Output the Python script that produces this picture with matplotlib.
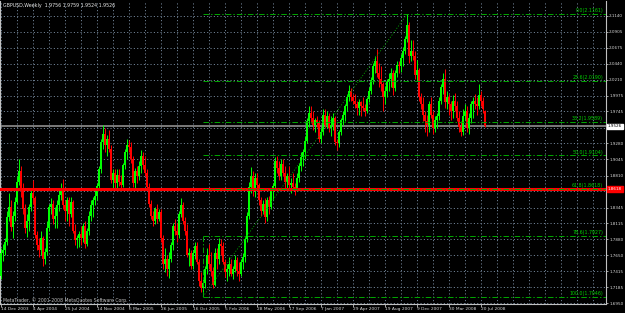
import matplotlib.pyplot as plt
import numpy as np

plt.rcParams["lines.scale_dashes"] = False
plt.rcParams["font.family"] = ["DejaVu Sans"]

title_text = "GBPUSD,Weekly  1.9756 1.9759 1.9524 1.9526"
copyright_text = "MetaTrader, \u00a9 2001-2008 MetaQuotes Software Corp."

# weekly bars, first bar = week of 14 Dec 2003
opens = [
    1.735, 1.768, 1.773, 1.785, 1.820, 1.835, 1.806, 1.822, 1.843, 1.872,
    1.888, 1.862, 1.832, 1.805, 1.815, 1.836, 1.855, 1.848, 1.795, 1.780,
    1.772, 1.790, 1.760, 1.770, 1.805, 1.835, 1.840, 1.818, 1.822, 1.838,
    1.853, 1.862, 1.838, 1.830, 1.845, 1.825, 1.842, 1.800, 1.787, 1.790,
    1.796, 1.790, 1.808, 1.782, 1.800, 1.822, 1.838, 1.845, 1.852, 1.866,
    1.890, 1.930, 1.942, 1.925, 1.935, 1.920, 1.875, 1.885, 1.870, 1.882,
    1.872, 1.868, 1.896, 1.915, 1.925, 1.922, 1.905, 1.870, 1.888, 1.880,
    1.895, 1.910, 1.896, 1.885, 1.865, 1.840, 1.822, 1.815, 1.832, 1.818,
    1.828, 1.790, 1.752, 1.760, 1.745, 1.760, 1.780, 1.808, 1.800, 1.795,
    1.825, 1.838, 1.815, 1.800, 1.765, 1.768, 1.750, 1.768, 1.778, 1.755,
    1.728, 1.718, 1.725, 1.745, 1.765, 1.752, 1.742, 1.722, 1.768, 1.760,
    1.782, 1.778, 1.755, 1.740, 1.745, 1.752, 1.738, 1.745, 1.758, 1.742,
    1.738, 1.755, 1.762, 1.788, 1.822, 1.865, 1.880, 1.858, 1.878, 1.868,
    1.845, 1.830, 1.840, 1.820, 1.845, 1.835, 1.858, 1.866, 1.902, 1.892,
    1.880, 1.898, 1.885, 1.872, 1.880, 1.868, 1.870, 1.865, 1.862, 1.878,
    1.895, 1.908, 1.915, 1.932, 1.960, 1.972, 1.965, 1.955, 1.962, 1.958,
    1.935, 1.945, 1.970, 1.955, 1.968, 1.950, 1.955, 1.965, 1.930, 1.928,
    1.945, 1.962, 1.970, 1.982, 1.995, 2.005, 1.996, 1.990, 1.985, 1.980,
    1.988, 1.982, 1.980, 1.975, 1.992, 2.005, 2.020, 2.040, 2.048, 2.030,
    2.022, 2.015, 1.995, 2.005, 2.018, 2.022, 2.030, 2.008, 2.030, 2.042,
    2.040, 2.052, 2.062, 2.080, 2.100, 2.055, 2.062, 2.055, 2.028, 2.035,
    1.995, 1.985, 1.970, 1.960, 1.955, 1.985, 1.970, 1.950, 1.962, 1.968,
    1.990, 2.010, 2.022, 1.988, 1.995, 1.985, 1.975, 1.990, 1.982, 1.965,
    1.952, 1.945, 1.968, 1.975, 1.950, 1.965, 1.985, 1.990, 1.985, 1.982,
    1.998, 1.990, 1.9756,
]
highs = [
    1.775, 1.781, 1.790, 1.829, 1.855, 1.845, 1.830, 1.850, 1.880, 1.905,
    1.895, 1.870, 1.840, 1.825, 1.840, 1.860, 1.875, 1.852, 1.800, 1.790,
    1.800, 1.793, 1.775, 1.815, 1.840, 1.848, 1.845, 1.835, 1.845, 1.860,
    1.870, 1.876, 1.845, 1.850, 1.850, 1.850, 1.845, 1.810, 1.795, 1.800,
    1.808, 1.812, 1.815, 1.805, 1.830, 1.845, 1.850, 1.860, 1.870, 1.895,
    1.935, 1.955, 1.950, 1.940, 1.948, 1.925, 1.890, 1.890, 1.890, 1.890,
    1.882, 1.900, 1.920, 1.935, 1.933, 1.930, 1.910, 1.892, 1.895, 1.902,
    1.918, 1.915, 1.910, 1.890, 1.870, 1.845, 1.830, 1.835, 1.840, 1.832,
    1.832, 1.795, 1.775, 1.765, 1.770, 1.785, 1.812, 1.818, 1.812, 1.830,
    1.848, 1.842, 1.820, 1.810, 1.775, 1.772, 1.772, 1.785, 1.785, 1.760,
    1.740, 1.730, 1.750, 1.775, 1.782, 1.770, 1.748, 1.775, 1.775, 1.790,
    1.788, 1.785, 1.760, 1.752, 1.762, 1.760, 1.750, 1.765, 1.762, 1.755,
    1.760, 1.768, 1.792, 1.828, 1.872, 1.893, 1.888, 1.885, 1.885, 1.870,
    1.850, 1.845, 1.848, 1.850, 1.852, 1.862, 1.870, 1.908, 1.910, 1.902,
    1.905, 1.905, 1.895, 1.885, 1.895, 1.878, 1.885, 1.870, 1.885, 1.900,
    1.915, 1.920, 1.938, 1.965, 1.983, 1.982, 1.975, 1.965, 1.968, 1.962,
    1.950, 1.978, 1.978, 1.975, 1.972, 1.968, 1.972, 1.968, 1.935, 1.948,
    1.965, 1.975, 1.985, 2.000, 2.013, 2.008, 2.000, 2.000, 1.990, 1.992,
    1.990, 1.995, 1.985, 1.995, 2.010, 2.025, 2.045, 2.055, 2.066, 2.045,
    2.040, 2.018, 2.012, 2.022, 2.030, 2.038, 2.035, 2.035, 2.048, 2.048,
    2.058, 2.068, 2.085, 2.116, 2.105, 2.078, 2.078, 2.062, 2.050, 2.038,
    2.002, 1.995, 1.975, 1.970, 1.990, 1.995, 1.975, 1.968, 1.972, 1.995,
    2.015, 2.030, 2.037, 2.005, 2.000, 1.990, 1.998, 2.002, 1.990, 1.975,
    1.960, 1.978, 1.985, 1.982, 1.972, 1.990, 1.995, 2.000, 1.995, 2.015,
    2.005, 1.995, 1.9759,
]
lows = [
    1.731, 1.756, 1.765, 1.780, 1.815, 1.800, 1.790, 1.815, 1.840, 1.868,
    1.850, 1.825, 1.798, 1.792, 1.800, 1.830, 1.840, 1.790, 1.772, 1.762,
    1.765, 1.750, 1.752, 1.765, 1.800, 1.825, 1.810, 1.805, 1.805, 1.830,
    1.845, 1.832, 1.815, 1.815, 1.808, 1.820, 1.798, 1.780, 1.775, 1.777,
    1.780, 1.785, 1.775, 1.778, 1.795, 1.815, 1.820, 1.838, 1.845, 1.860,
    1.885, 1.920, 1.915, 1.910, 1.915, 1.870, 1.862, 1.860, 1.862, 1.866,
    1.860, 1.865, 1.890, 1.905, 1.915, 1.900, 1.865, 1.862, 1.870, 1.875,
    1.885, 1.890, 1.880, 1.860, 1.835, 1.818, 1.808, 1.810, 1.812, 1.815,
    1.785, 1.745, 1.740, 1.735, 1.732, 1.755, 1.772, 1.795, 1.785, 1.790,
    1.820, 1.810, 1.795, 1.762, 1.750, 1.745, 1.745, 1.760, 1.752, 1.720,
    1.712, 1.705, 1.718, 1.738, 1.745, 1.735, 1.718, 1.720, 1.745, 1.752,
    1.765, 1.752, 1.733, 1.728, 1.735, 1.735, 1.730, 1.740, 1.735, 1.728,
    1.735, 1.745, 1.755, 1.785, 1.818, 1.855, 1.852, 1.850, 1.860, 1.838,
    1.822, 1.825, 1.812, 1.815, 1.825, 1.832, 1.845, 1.862, 1.885, 1.875,
    1.875, 1.880, 1.862, 1.860, 1.862, 1.855, 1.860, 1.853, 1.858, 1.872,
    1.888, 1.895, 1.905, 1.928, 1.952, 1.958, 1.948, 1.945, 1.952, 1.930,
    1.928, 1.940, 1.950, 1.950, 1.945, 1.938, 1.948, 1.925, 1.918, 1.922,
    1.940, 1.955, 1.960, 1.975, 1.990, 1.990, 1.985, 1.980, 1.970, 1.970,
    1.968, 1.975, 1.968, 1.972, 1.988, 2.000, 2.015, 2.030, 2.025, 2.010,
    2.005, 1.975, 1.985, 1.995, 2.005, 2.010, 1.998, 2.005, 2.025, 2.030,
    2.032, 2.040, 2.058, 2.075, 2.045, 2.048, 2.050, 2.022, 2.020, 1.990,
    1.978, 1.960, 1.945, 1.938, 1.945, 1.965, 1.942, 1.945, 1.950, 1.962,
    1.985, 2.000, 1.980, 1.978, 1.970, 1.962, 1.965, 1.975, 1.960, 1.945,
    1.938, 1.940, 1.962, 1.945, 1.942, 1.958, 1.965, 1.978, 1.970, 1.978,
    1.982, 1.972, 1.9524,
]
closes = [
    1.768, 1.773, 1.785, 1.820, 1.835, 1.806, 1.822, 1.843, 1.872, 1.888,
    1.862, 1.832, 1.805, 1.815, 1.836, 1.855, 1.848, 1.795, 1.780, 1.772,
    1.790, 1.760, 1.770, 1.805, 1.835, 1.840, 1.818, 1.822, 1.838, 1.853,
    1.862, 1.838, 1.830, 1.845, 1.825, 1.842, 1.800, 1.787, 1.790, 1.796,
    1.790, 1.808, 1.782, 1.800, 1.822, 1.838, 1.845, 1.852, 1.866, 1.890,
    1.930, 1.942, 1.925, 1.935, 1.920, 1.875, 1.885, 1.870, 1.882, 1.872,
    1.868, 1.896, 1.915, 1.925, 1.922, 1.905, 1.870, 1.888, 1.880, 1.895,
    1.910, 1.896, 1.885, 1.865, 1.840, 1.822, 1.815, 1.832, 1.818, 1.828,
    1.790, 1.752, 1.760, 1.745, 1.760, 1.780, 1.808, 1.800, 1.795, 1.825,
    1.838, 1.815, 1.800, 1.765, 1.768, 1.750, 1.768, 1.778, 1.755, 1.728,
    1.718, 1.725, 1.745, 1.765, 1.752, 1.742, 1.722, 1.768, 1.760, 1.782,
    1.778, 1.755, 1.740, 1.745, 1.752, 1.738, 1.745, 1.758, 1.742, 1.738,
    1.755, 1.762, 1.788, 1.822, 1.865, 1.880, 1.858, 1.878, 1.868, 1.845,
    1.830, 1.840, 1.820, 1.845, 1.835, 1.858, 1.866, 1.902, 1.892, 1.880,
    1.898, 1.885, 1.872, 1.880, 1.868, 1.870, 1.865, 1.862, 1.878, 1.895,
    1.908, 1.915, 1.932, 1.960, 1.972, 1.965, 1.955, 1.962, 1.958, 1.935,
    1.945, 1.970, 1.955, 1.968, 1.950, 1.955, 1.965, 1.930, 1.928, 1.945,
    1.962, 1.970, 1.982, 1.995, 2.005, 1.996, 1.990, 1.985, 1.980, 1.988,
    1.982, 1.980, 1.975, 1.992, 2.005, 2.020, 2.040, 2.048, 2.030, 2.022,
    2.015, 1.995, 2.005, 2.018, 2.022, 2.030, 2.008, 2.030, 2.042, 2.040,
    2.052, 2.062, 2.080, 2.100, 2.055, 2.062, 2.055, 2.028, 2.035, 1.995,
    1.985, 1.970, 1.960, 1.955, 1.985, 1.970, 1.950, 1.962, 1.968, 1.990,
    2.010, 2.022, 1.988, 1.995, 1.985, 1.975, 1.990, 1.982, 1.965, 1.952,
    1.945, 1.968, 1.975, 1.950, 1.965, 1.985, 1.990, 1.985, 1.982, 1.998,
    1.990, 1.978, 1.9526,
]

date_bars = [0, 16, 32, 48, 64, 80, 96, 112, 128, 144, 160, 176, 192, 208, 224, 240]
date_labels = ["14 Dec 2003", "4 Apr 2004", "25 Jul 2004", "14 Nov 2004",
               "6 Mar 2005", "26 Jun 2005", "16 Oct 2005", "5 Feb 2006",
               "28 May 2006", "17 Sep 2006", "7 Jan 2007", "29 Apr 2007",
               "19 Aug 2007", "9 Dec 2007", "30 Mar 2008", "20 Jul 2008"]

price_ticks = [2.1140, 2.0905, 2.0675, 2.0440, 2.0210, 1.9975, 1.9745, 1.9510,
               1.9280, 1.9045, 1.8810, 1.8580, 1.8345, 1.8115, 1.7880, 1.7650,
               1.7415, 1.7185, 1.6950]
price_labels = ["2.1140", "2.0905", "2.0675", "2.0440", "2.0210", "1.9975", "1.9745", "",
                "1.9280", "1.9045", "1.8810", "", "1.8345", "1.8115", "1.7880", "1.7650",
                "1.7415", "1.7185", "1.6950"]

fib_names = ["0.0", "23.6", "38.2", "50.0", "61.8", "78.6", "100.0"]
fib_prices = [2.1161, 2.0190, 1.9589, 1.9104, 1.8618, 1.7927, 1.7046]
fib_low_bar = 101
fib_high_bar = 203

hline_price = 1.8618
bid_price = 1.9526

W, H = 625, 313
fig = plt.figure(figsize=(W / 100, H / 100), dpi=100, facecolor="black")
ax = fig.add_axes([0, 9.5 / H, 606 / W, 302.5 / H])
ax.set_facecolor("black")

x = np.arange(len(closes))
o = np.array(opens)
c = np.array(closes)
colors = np.where(c >= o, "#00ff00", "#ff0000")

# grid
grid_col = "#718397"
ax.set_xticks(np.arange(0, 303, 8), minor=True)
ax.set_xticks(date_bars, labels=date_labels)
ax.set_yticks(price_ticks, labels=price_labels)
ax.grid(which="both", axis="x", color=grid_col, linestyle=(0, (0.8, 1.6)), linewidth=0.7)
ax.grid(which="major", axis="y", color=grid_col, linestyle=(0, (0.8, 1.6)), linewidth=0.7)
ax.set_axisbelow(True)

# candles
ax.vlines(x, lows, highs, colors=colors, linewidth=0.7, zorder=3)
ax.bar(x, np.maximum(np.abs(c - o), 0.0007), bottom=np.minimum(o, c), width=0.7,
       color=colors, linewidth=0, zorder=3)

# price lines
ax.axhline(bid_price, color="#9a9a9a", linewidth=1.1, zorder=2)
ax.axhline(hline_price, color="#ff0000", linewidth=2.2, zorder=4)

# fibonacci
fib_col = "#00a800"
for name, p in zip(fib_names, fib_prices):
    ax.plot([fib_low_bar, 302.5], [p, p], color=fib_col, linewidth=0.7,
            linestyle=(0, (4, 1.5, 1, 1.5)), zorder=4)
    ax.text(301, p + 0.0012, f"{name}({p:.4f})", color="#00d000", fontsize=3.4,
            ha="right", va="bottom", zorder=5)
ax.plot([fib_low_bar, fib_low_bar], [fib_prices[-1], fib_prices[-2]], color=fib_col,
        linewidth=0.7, linestyle=(0, (4, 1.5, 1, 1.5)), zorder=4)
ax.plot([fib_low_bar, fib_high_bar], [fib_prices[-1], fib_prices[0]], color=fib_col,
        linewidth=0.6, linestyle=(0, (0.8, 1.2)), zorder=4)

ax.set_xlim(-0.5, 302.5)
ax.set_ylim(1.6947, 2.1354)

ax.yaxis.tick_right()
ax.tick_params(axis="y", which="major", length=1.5, width=0.6, color="#c0c0c0",
               labelsize=3.0, labelcolor="#d8d8d8", pad=0.8)
ax.tick_params(axis="x", which="major", length=2, width=0.6, color="#c0c0c0",
               labelsize=3.2, labelcolor="#d8d8d8", pad=0.8)
ax.tick_params(axis="x", which="minor", length=0)
for lbl in ax.get_xticklabels():
    lbl.set_ha("left")

for side in ["left", "right", "bottom"]:
    ax.spines[side].set_color("#c0c0c0")
    ax.spines[side].set_linewidth(0.8)
ax.spines["top"].set_visible(False)

# price boxes on the right scale
ax.annotate(f"{bid_price:.4f}", xy=(1.0, bid_price), xycoords=("axes fraction", "data"),
            xytext=(1.5, 0), textcoords="offset points", fontsize=3.0, color="black",
            va="center", ha="left",
            bbox=dict(boxstyle="square,pad=0.2", fc="white", ec="white"))
ax.annotate(f"{hline_price:.4f}", xy=(1.0, hline_price), xycoords=("axes fraction", "data"),
            xytext=(1.5, 0), textcoords="offset points", fontsize=3.0, color="white",
            va="center", ha="left",
            bbox=dict(boxstyle="square,pad=0.2", fc="#ff0000", ec="#ff0000"))

fig.text(3 / W, 1 - 6 / H, title_text, fontsize=3.4, color="#e8e8e8", va="center", ha="left")
fig.text(3 / W, 1 - 300 / H, copyright_text, fontsize=3.3, color="#c0c0c0",
         va="center", ha="left")

fig.savefig("out.png", dpi=100, facecolor="black")
